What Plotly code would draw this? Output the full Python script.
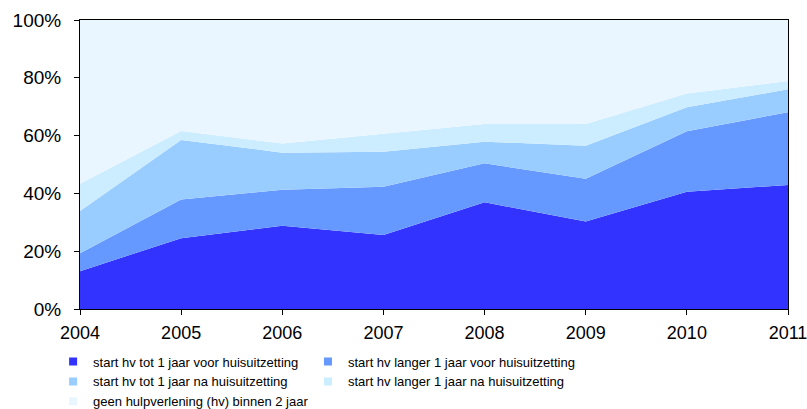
import plotly.graph_objects as go

years = [2004, 2005, 2006, 2007, 2008, 2009, 2010, 2011]
names = [
    "start hv tot 1 jaar voor huisuitzetting",
    "start hv langer 1 jaar voor huisuitzetting",
    "start hv tot 1 jaar na huisuitzetting",
    "start hv langer 1 jaar na huisuitzetting",
    "geen hulpverlening (hv) binnen 2 jaar",
]
s1 = [13.1, 24.5, 28.8, 25.6, 36.9, 30.3, 40.6, 42.9]
s2 = [6.2, 13.4, 12.5, 16.7, 13.5, 14.8, 20.9, 25.2]
s3 = [14.6, 20.6, 12.8, 12.1, 7.5, 11.4, 8.3, 7.9]
s4 = [9.4, 3.1, 3.2, 6.2, 6.1, 7.5, 4.8, 2.9]
s5 = [56.7, 38.4, 42.7, 39.4, 36.0, 36.0, 25.4, 21.1]
series = [s1, s2, s3, s4, s5]
colors = ["#3333FF", "#6699FF", "#99CCFF", "#CCECFF", "#EAF6FF"]
legend_column = ["legend", "legend2", "legend", "legend2", "legend"]
y_ticks = [0, 20, 40, 60, 80, 100]

fig = go.Figure()
for name, vals, col in zip(names, series, colors):
    fig.add_trace(go.Scatter(
        x=years, y=vals, name=name, stackgroup="one", mode="lines",
        line=dict(width=0, color=col), fillcolor=col, showlegend=False,
        hoverinfo="skip",
    ))
for name, col, lg in zip(names, colors, legend_column):
    fig.add_trace(go.Scatter(
        x=[None], y=[None], name=name, mode="markers", legend=lg,
        marker=dict(symbol="square", size=8, color=col), showlegend=True,
    ))

font = "Liberation Sans, Arial, sans-serif"
legend_style = dict(
    orientation="v", xanchor="left", yanchor="top", itemwidth=30,
    font=dict(size=13, family=font, color="black"),
    bgcolor="rgba(0,0,0,0)", traceorder="normal", tracegroupgap=0,
)
fig.update_layout(
    width=807, height=409,
    margin=dict(l=80, r=19, t=20, b=100, autoexpand=False),
    paper_bgcolor="white", plot_bgcolor="white",
    font=dict(family=font, color="black", size=17),
    showlegend=True,
    legend=dict(x=-0.038, y=-0.13, **legend_style),
    legend2=dict(x=0.322, y=-0.13, **legend_style),
    xaxis=dict(
        range=[2004, 2011], tickmode="array", tickvals=years,
        ticktext=[str(y) for y in years],
        showline=True, linecolor="black", linewidth=1, mirror=True,
        ticks="outside", ticklen=5, tickcolor="black", showgrid=False,
        zeroline=False, tickfont=dict(size=18), ticklabeloverflow="allow",
        ticklabelstandoff=2,
    ),
    yaxis=dict(
        range=[0, 100], tickmode="array", tickvals=y_ticks,
        ticktext=[f"{v}%" for v in y_ticks],
        showline=True, linecolor="black", linewidth=1, mirror=True,
        ticks="outside", ticklen=5, tickcolor="black", showgrid=False,
        zeroline=False, tickfont=dict(size=19), ticklabeloverflow="allow",
        ticklabelstandoff=9,
    ),
)
fig.write_html("out.html", config={"displayModeBar": False},
               post_script="document.body.style.margin='0';")
